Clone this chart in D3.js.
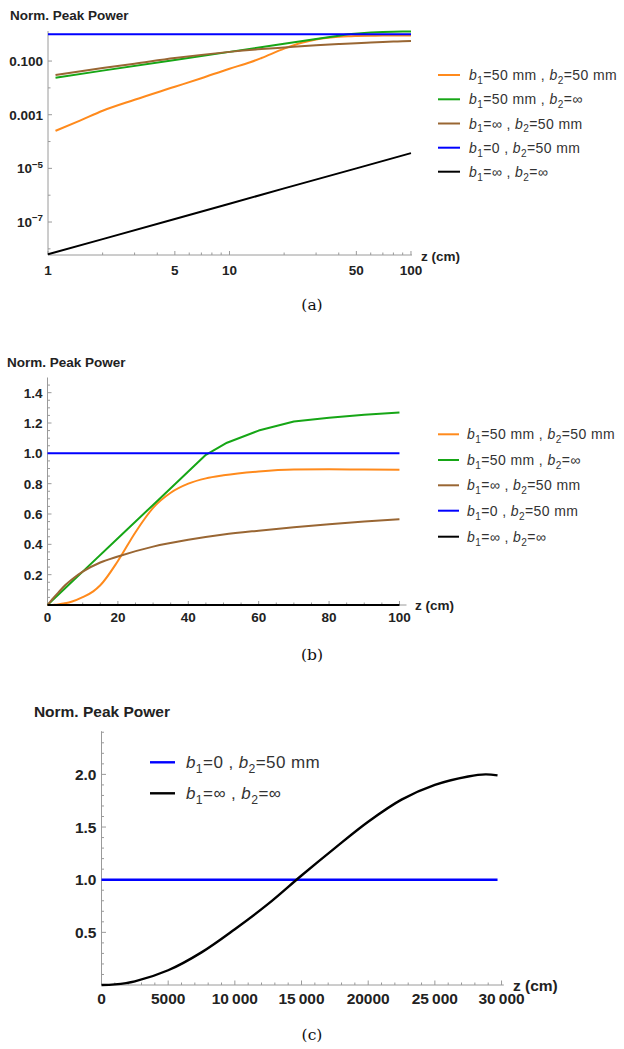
<!DOCTYPE html>
<html><head><meta charset="utf-8">
<script src="https://cdn.jsdelivr.net/npm/d3@7"></script>
<style>body{margin:0;background:#fff}svg{display:block}</style>
</head><body>
<svg id="c" width="624" height="1049"></svg>
<script>
// ---------------- DATA ----------------
const seriesNames = ["b_1=50 mm , b_2=50 mm", "b_1=50 mm , b_2=∞", "b_1=∞ , b_2=50 mm", "b_1=0 , b_2=50 mm", "b_1=∞ , b_2=∞"];
const seriesColors = ["#ff8a1c", "#16a616", "#996633", "#0000ff", "#000000"];

const zOrange = [0, 1.1, 1.5, 2, 3, 5, 7, 10, 13, 15, 20, 25, 30, 35, 40, 45, 50, 60, 70, 80, 90, 100];
const pOrange = [0, 2.5e-4, 6e-4, 1.4e-3, 3.6e-3, 0.011, 0.023, 0.052, 0.09, 0.13, 0.29, 0.48, 0.64, 0.74, 0.80, 0.835, 0.855, 0.88, 0.893, 0.895, 0.893, 0.892];

const zGreen = [0, 1.1, 2, 5, 10, 20, 30, 40, 45, 51, 60, 70, 80, 90, 100];
const pGreen = [0, 0.024, 0.044, 0.11, 0.22, 0.44, 0.66, 0.88, 0.99, 1.07, 1.15, 1.21, 1.235, 1.255, 1.27];

const zBrown = [0, 1.1, 2, 3, 5, 7, 10, 15, 20, 30, 40, 50, 60, 70, 80, 90, 100];
const pBrown = [0, 0.030, 0.055, 0.08, 0.13, 0.17, 0.22, 0.28, 0.32, 0.385, 0.43, 0.465, 0.49, 0.512, 0.532, 0.55, 0.565];

const zBlue = [0, 1, 100];
const pBlue = [1, 1, 1];

const zBlack = [0, 1, 2, 5, 10, 20, 50, 100];
const pBlack = [0, 6.3e-9, 2.3e-8, 1.3e-7, 4.8e-7, 1.8e-6, 1.0e-5, 3.7e-5];

// panel (c): long distance
const zBlueLong = [0, 29700];
const pBlueLong = [1, 1];
const zBlackLong = [0, 1000, 2500, 5000, 7500, 10000, 12500, 15000, 17500, 20000, 22500, 25000, 27500, 28800, 29700];
const pBlackLong = [0, 0.006, 0.035, 0.14, 0.31, 0.53, 0.77, 1.04, 1.30, 1.55, 1.76, 1.90, 1.98, 2.0, 1.99];

// tick labels
const aXMajor = [1, 5, 10, 50, 100];
const aXMinor = [2, 3, 4, 6, 7, 8, 9, 20, 30, 40, 60, 70, 80, 90];
const aYMajor = [0.1, 0.001, 1e-5, 1e-7];
const aYLabels = ["0.100", "0.001", "10^-5", "10^-7"];
const aYMinor = [1, 0.01, 1e-4, 1e-6, 1e-8];

const bXMajor = [0, 20, 40, 60, 80, 100];
const bYMajor = [0.2, 0.4, 0.6, 0.8, 1.0, 1.2, 1.4];
const bYLabels = ["0.2", "0.4", "0.6", "0.8", "1.0", "1.2", "1.4"];

const cXMajor = [0, 5000, 10000, 15000, 20000, 25000, 30000];
const cXLabels = ["0", "5000", "10\u2009000", "15\u2009000", "20000", "25\u2009000", "30\u2009000"];
const cYMajor = [0.5, 1.0, 1.5, 2.0];
const cYLabels = ["0.5", "1.0", "1.5", "2.0"];

// ---------------- DRAW ----------------
const svg = d3.select("#c");
const FONT = "'Liberation Sans', Arial, sans-serif";
const AXIS = "#9a9a9a", TXT = "#222";

function rich(text, str, size) {
  const parts = str.split(/(b_[12]|\^-?\d+)/).filter(s => s.length);
  let shift = 0;
  parts.forEach(p => {
    if (p.startsWith("b_")) {
      text.append("tspan").attr("font-style", "italic").attr("dy", -shift).text("b");
      text.append("tspan").attr("font-size", size * 0.72).attr("dy", size * 0.28).text(p.slice(2));
      shift = size * 0.28;
    } else if (p.startsWith("^")) {
      text.append("tspan").attr("font-size", size * 0.72).attr("dy", -size * 0.42 - shift).text(p.slice(1).replace("-", "\u2212"));
      shift = -size * 0.42;
    } else {
      text.append("tspan").attr("dy", -shift).text(p);
      shift = 0;
    }
  });
}

function mk(z, p) { return z.map((d, i) => ({ z: d, p: p[i] })); }

function panel(o) {
  const g = svg.append("g");
  const x = o.x, y = o.y;
  const [x0, x1] = x.range(), [y0, y1] = y.range();
  const clipId = "clip" + o.id;
  svg.append("clipPath").attr("id", clipId).append("rect")
    .attr("x", x0 - 1).attr("y", y1 - 4).attr("width", x1 - x0 + 2).attr("height", y0 - y1 + 8);

  g.append("line").attr("x1", x0).attr("x2", x1).attr("y1", y0).attr("y2", y0).attr("stroke", AXIS).attr("stroke-width", 1);
  g.append("line").attr("x1", x0).attr("x2", x0).attr("y1", y0).attr("y2", y1).attr("stroke", AXIS).attr("stroke-width", 1);
  o.xMajor.forEach(v => g.append("line").attr("x1", x(v)).attr("x2", x(v)).attr("y1", y0).attr("y2", y0 - o.tMaj).attr("stroke", AXIS));
  o.xMinor.forEach(v => g.append("line").attr("x1", x(v)).attr("x2", x(v)).attr("y1", y0).attr("y2", y0 - o.tMin).attr("stroke", AXIS));
  o.yMajor.forEach(v => g.append("line").attr("y1", y(v)).attr("y2", y(v)).attr("x1", x0).attr("x2", x0 + o.tMaj).attr("stroke", AXIS));
  o.yMinor.forEach(v => g.append("line").attr("y1", y(v)).attr("y2", y(v)).attr("x1", x0).attr("x2", x0 + o.tMin).attr("stroke", AXIS));
  o.xMajor.forEach((v, i) => g.append("text").attr("x", x(v)).attr("y", y0 + o.xLabDy)
    .attr("text-anchor", "middle").attr("font-family", FONT).attr("font-weight", "bold")
    .attr("font-size", o.fs).attr("fill", TXT).text(o.xLabels[i]));
  o.yMajor.forEach((v, i) => {
    const t = g.append("text").attr("x", x0 - 5).attr("y", y(v) + o.fs * 0.36)
      .attr("text-anchor", "end").attr("font-family", FONT).attr("font-weight", "bold")
      .attr("font-size", o.fs).attr("fill", TXT);
    rich(t, o.yLabels[i], o.fs);
  });
  g.append("text").attr("x", o.titleX).attr("y", o.titleY).attr("text-anchor", o.titleAnchor || "start")
    .attr("font-family", FONT).attr("font-weight", "bold")
    .attr("font-size", o.titleFs).attr("fill", TXT).text("Norm. Peak Power");
  g.append("text").attr("x", o.zX).attr("y", o.zY).attr("font-family", FONT).attr("font-weight", "bold")
    .attr("font-size", o.titleFs).attr("fill", TXT).text("z (cm)");
  g.append("text").attr("x", 312).attr("y", o.capY).attr("text-anchor", "middle")
    .attr("font-family", "'DejaVu Serif', 'Liberation Serif', serif").attr("font-size", 15.5).attr("fill", "#111").text(o.cap);

  const lg = g.append("g").attr("clip-path", `url(#${clipId})`);
  o.series.forEach(s => {
    const line = d3.line().x(d => x(d.z)).y(d => y(d.p)).curve(s.curve || d3.curveMonotoneX);
    lg.append("path").attr("d", line(s.data.filter(d => o.filter ? o.filter(d) : true)))
      .attr("fill", "none").attr("stroke", s.color).attr("stroke-width", o.lw).attr("stroke-linejoin", "round");
  });

  o.legend.items.forEach((it, i) => {
    const ly = o.legend.ys[i];
    g.append("line").attr("x1", o.legend.lx0).attr("x2", o.legend.lx1).attr("y1", ly).attr("y2", ly)
      .attr("stroke", it.color).attr("stroke-width", o.lw);
    const t = g.append("text").attr("x", o.legend.tx).attr("y", ly + o.legend.fs * 0.36)
      .attr("font-family", FONT).attr("font-size", o.legend.fs).attr("letter-spacing", 0.4).attr("fill", "#333");
    rich(t, it.name, o.legend.fs);
  });
}

const allSeries = [mk(zOrange, pOrange), mk(zGreen, pGreen), mk(zBrown, pBrown), mk(zBlue, pBlue), mk(zBlack, pBlack)];
const curves = [d3.curveMonotoneX, d3.curveLinear, d3.curveMonotoneX, d3.curveLinear, d3.curveLinear];
const ser = allSeries.map((d, i) => ({ data: d, color: seriesColors[i], curve: curves[i] }));
const legItems = seriesNames.map((n, i) => ({ name: n, color: seriesColors[i] }));

// (a) log-log
panel({
  id: "a",
  x: d3.scaleLog().domain([1, 101.3]).range([48, 412]),
  y: d3.scaleLog().domain([5.9e-9, 1.32]).range([255, 31]),
  xMajor: aXMajor, xMinor: aXMinor, xLabels: aXMajor.map(String),
  yMajor: aYMajor, yMinor: aYMinor, yLabels: aYLabels,
  tMaj: 4, tMin: 2.5, fs: 13.5, xLabDy: 20, lw: 2,
  titleX: 10, titleY: 20, titleFs: 13.5, zX: 421, zY: 261, capY: 310, cap: "(a)",
  filter: d => d.z >= 1,
  series: ser,
  legend: { items: legItems, ys: [75, 99.3, 123.5, 147.7, 171.7], lx0: 438, lx1: 460, tx: 469, fs: 14 }
});

// (b) linear
panel({
  id: "b",
  x: d3.scaleLinear().domain([0, 102]).range([47.5, 406.5]),
  y: d3.scaleLinear().domain([0, 1.5]).range([605, 377.5]),
  xMajor: bXMajor, xMinor: d3.range(5, 101, 5).filter(v => v % 20), xLabels: bXMajor.map(String),
  yMajor: bYMajor, yMinor: d3.range(0.05, 1.5, 0.05).filter(v => Math.abs(v / 0.2 - Math.round(v / 0.2)) > 0.01), yLabels: bYLabels,
  tMaj: 4, tMin: 2.5, fs: 13.5, xLabDy: 17, lw: 2,
  titleX: 7, titleY: 367, titleFs: 13.5, zX: 415, zY: 610, capY: 660, cap: "(b)",
  series: ser,
  legend: { items: legItems, ys: [434.3, 460, 485.3, 510.7, 536.7], lx0: 438, lx1: 459, tx: 467, fs: 14 }
});

// (c) long distance
panel({
  id: "c",
  x: d3.scaleLinear().domain([0, 30170]).range([101.5, 503.8]),
  y: d3.scaleLinear().domain([0, 2.41]).range([985, 731.2]),
  xMajor: cXMajor, xMinor: d3.range(1000, 30001, 1000).filter(v => v % 5000), xLabels: cXLabels,
  yMajor: cYMajor, yMinor: d3.range(0.1, 2.41, 0.1).filter(v => Math.abs(v / 0.5 - Math.round(v / 0.5)) > 0.01), yLabels: cYLabels,
  tMaj: 4.5, tMin: 2.5, fs: 15.5, xLabDy: 19, lw: 2.4,
  titleX: 170, titleAnchor: "end", titleY: 717, titleFs: 15.5, zX: 513, zY: 991, capY: 1040, cap: "(c)",
  series: [
    { data: mk(zBlueLong, pBlueLong), color: seriesColors[3], curve: d3.curveLinear },
    { data: mk(zBlackLong, pBlackLong), color: seriesColors[4], curve: d3.curveCatmullRom }
  ],
  legend: { items: [legItems[3], legItems[4]], ys: [762.3, 793.3], lx0: 150, lx1: 175, tx: 186, fs: 17 }
});
</script>
</body></html>
